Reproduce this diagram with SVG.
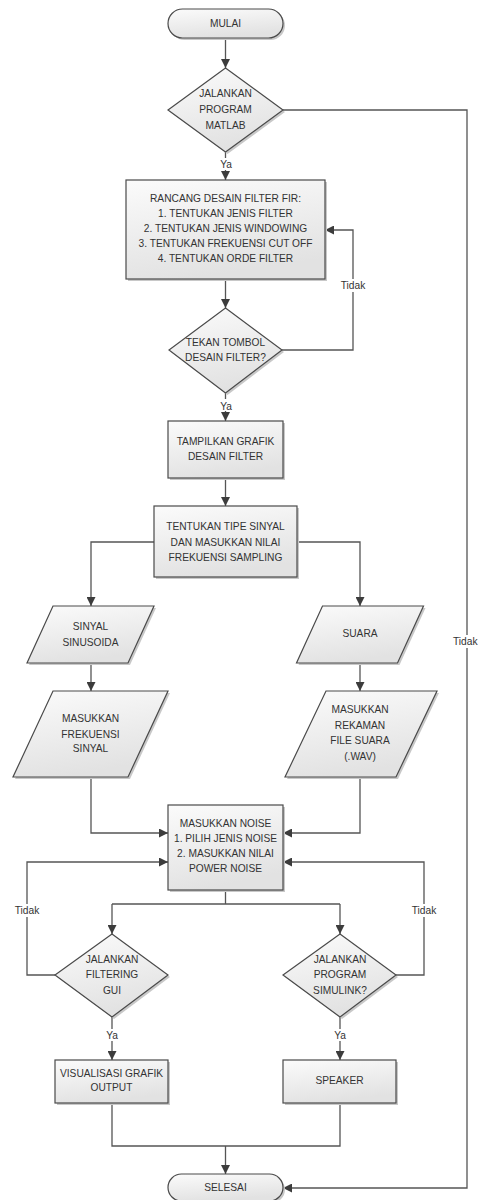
<svg xmlns="http://www.w3.org/2000/svg" width="478" height="1200" viewBox="0 0 478 1200">
<defs>
<linearGradient id="g" x1="0" y1="0" x2="0.3" y2="1">
<stop offset="0" stop-color="#fbfbfb"/>
<stop offset="1" stop-color="#e2e2e2"/>
</linearGradient>
<marker id="ah" viewBox="0 0 10 10" refX="10" refY="5" markerWidth="9" markerHeight="9" markerUnits="userSpaceOnUse" orient="auto">
<path d="M0,0 L10,5 L0,10 z" fill="#3c3c3c"/>
</marker>
<style>
.s{fill:url(#g);stroke:#4a4a4a;stroke-width:1.2}
.sh{fill:#c8c8c8;stroke:none}
.t{font-family:"Liberation Sans",Arial,sans-serif;font-size:10.2px;fill:#333;text-anchor:middle}
.c{fill:none;stroke:#555;stroke-width:1.3}
.a{marker-end:url(#ah)}
.bg{fill:#fff}
</style>
</defs>

<g id="connectors">
<path class="c a" d="M225.5,38 V68"/>
<path class="c a" d="M225.5,152 V180"/>
<path class="c a" d="M283,110 H467 V1188 H283"/>
<path class="c a" d="M225.5,279 V308"/>
<path class="c a" d="M282,350 H353 V230 H325"/>
<path class="c a" d="M225.5,393 V421"/>
<path class="c a" d="M225.5,478 V506"/>
<path class="c a" d="M154,542 H91 V606"/>
<path class="c a" d="M297,542 H360 V606"/>
<path class="c a" d="M91,663 V691"/>
<path class="c a" d="M360,663 V691"/>
<path class="c a" d="M91,777 V833 H168"/>
<path class="c a" d="M360,777 V833 H283"/>
<path class="c" d="M225.5,890 V904 M112,904 H340"/>
<path class="c a" d="M112,904 V934"/>
<path class="c a" d="M340,904 V934"/>
<path class="c a" d="M55,975 H27 V862 H168"/>
<path class="c a" d="M396,975 H424 V862 H283"/>
<path class="c a" d="M112,1017 V1060"/>
<path class="c a" d="M340,1017 V1060"/>
<path class="c" d="M112,1103 V1146 H340 V1103"/>
<path class="c a" d="M225.5,1146 V1174"/>
<rect class="bg" x="218" y="158" width="16" height="12"/>
<text class="t" x="226" y="168">Ya</text>
<rect class="bg" x="340" y="279" width="27" height="13"/>
<text class="t" x="353" y="289">Tidak</text>
<rect class="bg" x="218" y="399" width="16" height="12"/>
<text class="t" x="226" y="410">Ya</text>
<rect class="bg" x="452" y="635" width="26" height="13"/>
<text class="t" x="453" y="645" style="text-anchor:start">Tidak</text>
<rect class="bg" x="14" y="904" width="27" height="13"/>
<text class="t" x="27" y="914">Tidak</text>
<rect class="bg" x="411" y="904" width="27" height="13"/>
<text class="t" x="424" y="914">Tidak</text>
<rect class="bg" x="104" y="1029" width="16" height="12"/>
<text class="t" x="112" y="1039">Ya</text>
<rect class="bg" x="332" y="1029" width="16" height="12"/>
<text class="t" x="340" y="1039">Ya</text>
</g>

<g id="mulai">
<rect class="sh" x="170" y="11" width="115" height="29" rx="14.5"/>
<rect class="s" x="168" y="9" width="115" height="29" rx="14.5"/>
<text class="t" x="225.5" y="27">MULAI</text>
</g>

<g id="d1">
<polygon class="sh" points="227.5,70 285,112 227.5,154 170,112"/>
<polygon class="s" points="225.5,68 283,110 225.5,152 168,110"/>
<text class="t" x="225.5" y="97">JALANKAN</text>
<text class="t" x="225.5" y="113">PROGRAM</text>
<text class="t" x="225.5" y="129">MATLAB</text>
</g>

<g id="rancang">
<rect class="sh" x="128" y="182" width="199" height="99"/>
<rect class="s" x="126" y="180" width="199" height="99"/>
<text class="t" x="225.5" y="202">RANCANG DESAIN FILTER FIR:</text>
<text class="t" x="225.5" y="217">1. TENTUKAN JENIS FILTER</text>
<text class="t" x="225.5" y="232">2. TENTUKAN JENIS WINDOWING</text>
<text class="t" x="225.5" y="247">3. TENTUKAN FREKUENSI CUT OFF</text>
<text class="t" x="225.5" y="262">4. TENTUKAN ORDE FILTER</text>
</g>

<g id="d2">
<polygon class="sh" points="227.5,310 284,352 227.5,395 171,352"/>
<polygon class="s" points="225.5,308 282,350 225.5,393 169,350"/>
<text class="t" x="225.5" y="346">TEKAN TOMBOL</text>
<text class="t" x="225.5" y="361">DESAIN FILTER?</text>
</g>

<g id="tampilkan">
<rect class="sh" x="170" y="423" width="115" height="57"/>
<rect class="s" x="168" y="421" width="115" height="57"/>
<text class="t" x="225.5" y="445">TAMPILKAN GRAFIK</text>
<text class="t" x="225.5" y="460">DESAIN FILTER</text>
</g>

<g id="tipe">
<rect class="sh" x="156" y="508" width="143" height="71"/>
<rect class="s" x="154" y="506" width="143" height="71"/>
<text class="t" x="225.5" y="530">TENTUKAN TIPE SINYAL</text>
<text class="t" x="225.5" y="546">DAN MASUKKAN NILAI</text>
<text class="t" x="225.5" y="561">FREKUENSI SAMPLING</text>
</g>

<g id="sinusoida">
<polygon class="sh" points="55,608 156,608 130,665 29,665"/>
<polygon class="s" points="53,606 154,606 128,663 27,663"/>
<text class="t" x="90.5" y="630">SINYAL</text>
<text class="t" x="90.5" y="646">SINUSOIDA</text>
</g>

<g id="frekuensi">
<polygon class="sh" points="55,693 170,693 130,779 15,779"/>
<polygon class="s" points="53,691 168,691 128,777 13,777"/>
<text class="t" x="90.5" y="722">MASUKKAN</text>
<text class="t" x="90.5" y="738">FREKUENSI</text>
<text class="t" x="90.5" y="752">SINYAL</text>
</g>

<g id="suara">
<polygon class="sh" points="324.5,608 425.5,608 399.5,665 298.5,665"/>
<polygon class="s" points="322.5,606 423.5,606 397.5,663 296.5,663"/>
<text class="t" x="360" y="637">SUARA</text>
</g>

<g id="rekaman">
<polygon class="sh" points="328,693 439,693 398,779 287,779"/>
<polygon class="s" points="326,691 437,691 396,777 285,777"/>
<text class="t" x="360" y="713">MASUKKAN</text>
<text class="t" x="360" y="729">REKAMAN</text>
<text class="t" x="360" y="744">FILE SUARA</text>
<text class="t" x="360" y="760">(.WAV)</text>
</g>

<g id="noise">
<rect class="sh" x="170" y="807" width="115" height="85"/>
<rect class="s" x="168" y="805" width="115" height="85"/>
<text class="t" x="225.5" y="827">MASUKKAN NOISE</text>
<text class="t" x="225.5" y="842">1. PILIH JENIS NOISE</text>
<text class="t" x="225.5" y="857">2. MASUKKAN NILAI</text>
<text class="t" x="225.5" y="872">POWER NOISE</text>
</g>

<g id="d3">
<polygon class="sh" points="114,936 170,977 114,1019 57,977"/>
<polygon class="s" points="112,934 168,975 112,1017 55,975"/>
<text class="t" x="112" y="963">JALANKAN</text>
<text class="t" x="112" y="978">FILTERING</text>
<text class="t" x="112" y="994">GUI</text>
</g>

<g id="d4">
<polygon class="sh" points="342,936 398,977 342,1019 285,977"/>
<polygon class="s" points="340,934 396,975 340,1017 283,975"/>
<text class="t" x="340" y="963">JALANKAN</text>
<text class="t" x="340" y="978">PROGRAM</text>
<text class="t" x="340" y="994">SIMULINK?</text>
</g>

<g id="visualisasi">
<rect class="sh" x="57" y="1062" width="113" height="43"/>
<rect class="s" x="55" y="1060" width="113" height="43"/>
<text class="t" x="111.5" y="1077">VISUALISASI GRAFIK</text>
<text class="t" x="111.5" y="1091">OUTPUT</text>
</g>

<g id="speaker">
<rect class="sh" x="285" y="1062" width="113" height="43"/>
<rect class="s" x="283" y="1060" width="113" height="43"/>
<text class="t" x="339.5" y="1084">SPEAKER</text>
</g>

<g id="selesai">
<rect class="sh" x="170" y="1176" width="115" height="27" rx="13.5"/>
<rect class="s" x="168" y="1174" width="115" height="27" rx="13.5"/>
<text class="t" x="225.5" y="1191">SELESAI</text>
</g>
</svg>
